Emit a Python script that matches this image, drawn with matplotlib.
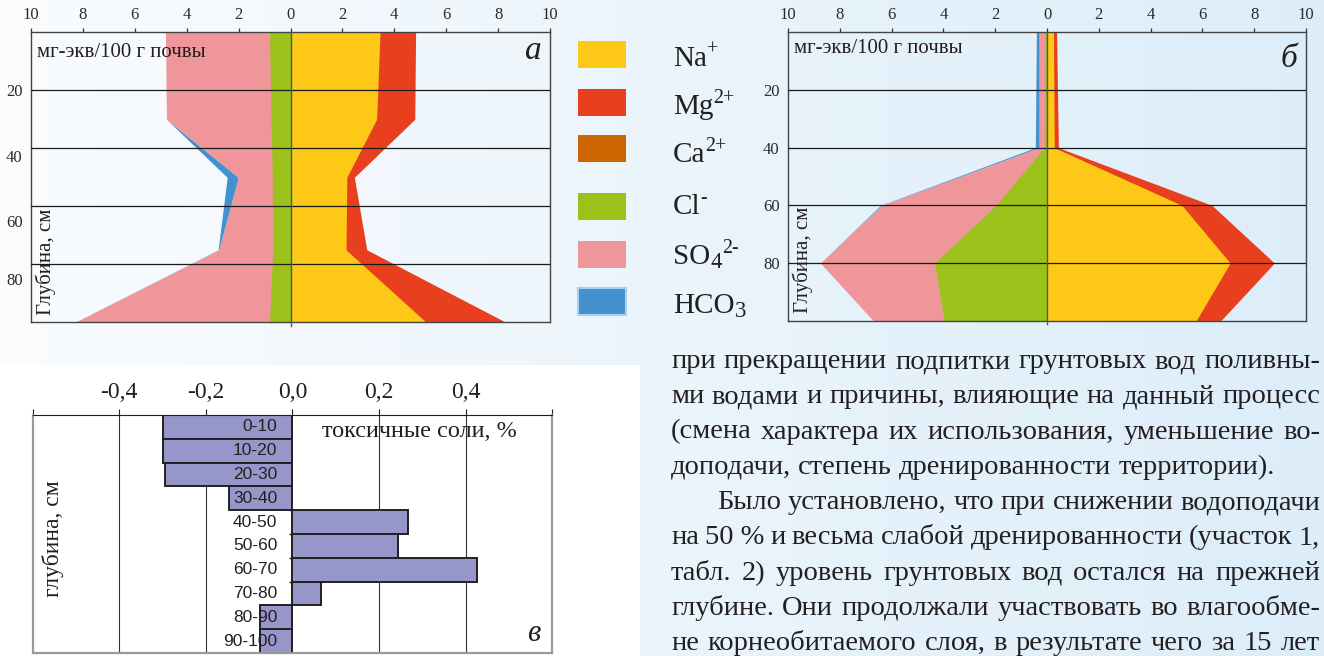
import numpy as np
import matplotlib.pyplot as plt
from matplotlib.patches import Rectangle

plt.rcParams['font.family'] = ['Liberation Serif', 'DejaVu Serif']

W, H = 1324, 656
INK = '#231f20'

# ---- profile а: depth (cm) and ions, mg-eq / 100 g soil ----
depth_a = [0, 30, 50, 75, 100]
na_a = [3.45, 3.32, 2.17, 2.14, 5.23]
mg_a = [1.37, 1.47, 0.29, 0.80, 3.07]
ca_a = [0, 0, 0, 0, 0]
cl_a = [0.81, 0.75, 0.70, 0.68, 0.81]
so4_a = [4.01, 4.03, 1.31, 2.08, 7.50]
hco3_a = [0.0, 0.0, 0.43, 0.03, 0.0]

# ---- profile б ----
depth_b = [0, 40, 60, 80, 100]
na_b = [0.25, 0.28, 5.21, 7.07, 5.76]
mg_b = [0.12, 0.16, 1.16, 1.71, 0.95]
ca_b = [0, 0, 0, 0, 0]
cl_b = [0.08, 0.10, 1.97, 4.34, 3.97]
so4_b = [0.22, 0.20, 4.41, 4.41, 2.74]
hco3_b = [0.11, 0.15, 0.05, 0.0, 0.0]

grid_depths = [20, 40, 60, 80]
depth_labels = ['20', '40', '60', '80']
x_ticks = [-10, -8, -6, -4, -2, 0, 2, 4, 6, 8, 10]

# ---- в: change of toxic salts, % ----
layers = ['0-10', '10-20', '20-30', '30-40', '40-50',
          '50-60', '60-70', '70-80', '80-90', '90-100']
toxic_change = [-0.30, -0.30, -0.295, -0.146, 0.266,
                0.244, 0.427, 0.066, -0.075, -0.075]
c_ticks = [-0.6, -0.4, -0.2, 0.0, 0.2, 0.4, 0.6]
c_tick_labels = ['', '-0,4', '-0,2', '0,0', '0,2', '0,4', '']

# ---- legend ----
ion_base = ['Na', 'Mg', 'Ca', 'Cl', 'SO', 'HCO']
ion_sub = ['', '', '', '', '4', '3']
ion_sup = ['+', '2+', '2+', '-', '2-', '']
ion_colors = ['#fec816', '#e8401f', '#cc6502', '#9bc21b', '#ee9699', '#4292d0']

body_lines = [
    'при прекращении подпитки грунтовых вод поливны-',
    'ми водами и причины, влияющие на данный процесс',
    '(смена характера их использования, уменьшение во-',
    'доподачи, степень дренированности территории).',
    'Было установлено, что при снижении водоподачи',
    'на 50\u00a0% и весьма слабой дренированности (участок 1,',
    'табл. 2) уровень грунтовых вод остался на прежней',
    'глубине. Они продолжали участвовать во влагообме-',
    'не корнеобитаемого слоя, в результате чего за 15 лет',
]
body_indent = [0, 0, 0, 0, 1, 0, 0, 0, 0]
body_justify = [1, 1, 1, 0, 1, 1, 1, 1, 1]

fig = plt.figure(figsize=(W / 100, H / 100), dpi=100)
renderer = fig.canvas.get_renderer()

# background gradient + white field under chart в
bg = fig.add_axes([0, 0, 1, 1], zorder=-10)
g = np.linspace(0, 1, 256)[:, None]
c_left = np.array([250, 252, 254]) / 255
c_right = np.array([220, 237, 249]) / 255
img = c_left * (1 - g) + c_right * g
bg.imshow(img[None, :, :], aspect='auto', extent=[0, W, H, 0])
bg.add_patch(Rectangle((0, 365), 640, H - 365, facecolor='white', lw=0))
bg.set_xlim(0, W)
bg.set_ylim(H, 0)
bg.axis('off')


def px_axes(left, top, right, bottom):
    return fig.add_axes([left / W, 1 - bottom / H, (right - left) / W, (bottom - top) / H])


def draw_profile(ax, depth, na, mg, ca, cl, so4, hco3, ylab_pos, letter, letter_y, unit_y):
    na, mg, ca = np.array(na), np.array(mg), np.array(ca)
    cl, so4, hco3 = np.array(cl), np.array(so4), np.array(hco3)
    # cations to the right (+), anions to the left (-)
    for sign, parts, cols in [(1, [na, mg, ca], ion_colors[:3]),
                              (-1, [cl, so4, hco3], ion_colors[3:])]:
        edges = np.cumsum(parts, axis=0)
        # outermost layer only between its own edges (it may vanish)
        if parts[2].any():
            ax.fill_betweenx(depth, sign * edges[1], sign * edges[2], color=cols[2], lw=0, zorder=1)
        # inner layers stacked from zero, outer first, so no seams
        for k in [1, 0]:
            ax.fill_betweenx(depth, 0, sign * edges[k], color=cols[k], lw=0, zorder=1)
    for d in grid_depths:
        ax.axhline(d, color='#1a1a1a', lw=0.9, zorder=3)
    ax.plot([0, 0], [0, 101.2], color='#555555', lw=1.0, zorder=4, clip_on=False)
    ax.set_xlim(-10, 10)
    ax.set_ylim(100, 0)
    ax.set_facecolor('none')
    ax.xaxis.tick_top()
    ax.set_xticks(x_ticks, [str(abs(v)) for v in x_ticks])
    ax.tick_params(axis='x', length=3, width=0.9, color='#333333', pad=4,
                   labelsize=12, labelcolor='#2a2a2a')
    ax.set_yticks(ylab_pos, depth_labels)
    ax.tick_params(axis='y', length=0, pad=6, labelsize=12, labelcolor='#2a2a2a')
    for s in ax.spines.values():
        s.set_color('#444444')
        s.set_linewidth(1.0)
    ax.text(0.0116, unit_y, 'мг-экв/100 г почвы', transform=ax.transAxes,
            fontsize=15, color=INK, va='baseline', ha='left', zorder=5)
    ax.text(0.984, letter_y, letter, transform=ax.transAxes, fontsize=24,
            style='italic', color=INK, va='baseline', ha='right', zorder=5)
    ax.text(0.028, 0.025, 'Глубина, см', transform=ax.transAxes, rotation=90,
            fontsize=15, color=INK, ha='center', va='bottom', zorder=5)


ax_a = px_axes(31, 32.3, 550, 322.3)
draw_profile(ax_a, depth_a, na_a, mg_a, ca_a, cl_a, so4_a, hco3_a,
             [20, 42.6, 65, 85], 'а', 0.907, 0.914)

ax_b = px_axes(788, 32.3, 1306, 320.7)
draw_profile(ax_b, depth_b, na_b, mg_b, ca_b, cl_b, so4_b, hco3_b,
             grid_depths, 'б', 0.881, 0.927)

# ---- chart в ----
ax_c = px_axes(32.7, 415, 552.3, 653)
ypos = np.arange(len(layers))
for xv in [-0.4, -0.2, 0.2, 0.4]:
    ax_c.axvline(xv, color='#333333', lw=0.8, zorder=0)
ax_c.hlines(ypos[:-1] + 0.5, -0.008, 0, color=INK, lw=1.0, zorder=1)
ax_c.barh(ypos, toxic_change, height=1.0, color='#9696ca', edgecolor=INK,
          linewidth=1.4, zorder=2)
for y, lab in zip(ypos, layers):
    ax_c.text(-0.035, y, lab, family='Liberation Sans', fontsize=12.5, color=INK,
              ha='right', va='center', zorder=4)
ax_c.set_xlim(-0.6, 0.6)
ax_c.set_ylim(len(layers) - 0.5, -0.5)
ax_c.set_facecolor('none')
ax_c.xaxis.tick_top()
ax_c.set_xticks(c_ticks, c_tick_labels)
ax_c.tick_params(axis='x', length=4, width=0.8, color=INK, pad=5, labelsize=17, labelcolor=INK)
ax_c.set_yticks([])
for side in ['left', 'right', 'bottom']:
    ax_c.spines[side].set_color('#9a9a9a')
    ax_c.spines[side].set_linewidth(1.6)
ax_c.spines['top'].set_color(INK)
ax_c.spines['top'].set_linewidth(0.8)
ax_c.text(0.557, 0.929, 'токсичные соли, %', transform=ax_c.transAxes,
          fontsize=17.5, color=INK, ha='left', va='center')
ax_c.text(0.976, 0.084, 'в', transform=ax_c.transAxes, fontsize=22,
          style='italic', color=INK, ha='right', va='center')
ax_c.text(0.039, 0.479, 'глубина, см', transform=ax_c.transAxes, rotation=90,
          fontsize=17, color=INK, ha='center', va='center')

# ---- overlay: legend and body text ----
ov = fig.add_axes([0, 0, 1, 1], zorder=5)
ov.set_xlim(0, W)
ov.set_ylim(H, 0)
ov.axis('off')

box_y = [54.5, 102.5, 148.5, 206.5, 254.5, 301]
label_y = [66, 114, 162, 214, 264, 313]


def draw_formula(x, y, base, sub, sup, fs=21):
    t = ov.text(x, y, base, fontsize=fs, color=INK, va='baseline')
    x += t.get_window_extent(renderer).width
    if sub:
        t = ov.text(x, y + 4, sub, fontsize=fs * 0.78, color=INK, va='baseline')
        x += t.get_window_extent(renderer).width
    if sup:
        ov.text(x, y - 11, sup, fontsize=fs * 0.68, color=INK, va='baseline')


for i in range(len(ion_base)):
    edge = '#a8d0ee' if i == 5 else ion_colors[i]
    ov.add_patch(Rectangle((578, box_y[i] - 13.5), 48, 27, facecolor=ion_colors[i],
                           edgecolor=edge, lw=1.5 if i == 5 else 0))
    draw_formula(673, label_y[i], ion_base[i], ion_sub[i], ion_sup[i])

body_fs = 20.5
space_w = body_fs * 100 / 72 * 0.25
for i, line in enumerate(body_lines):
    y = 368 + i * 35.3
    x0 = 717 if body_indent[i] else 671
    words = line.split(' ')
    items = [ov.text(0, y, w, fontsize=body_fs, color=INK, va='baseline') for w in words]
    widths = [t.get_window_extent(renderer).width for t in items]
    if body_justify[i] and len(words) > 1:
        gap = (1320 - x0 - sum(widths)) / (len(words) - 1)
    else:
        gap = space_w
    x = x0
    for t, w in zip(items, widths):
        t.set_x(x)
        x += w + gap

fig.savefig('out.png', dpi=100)
